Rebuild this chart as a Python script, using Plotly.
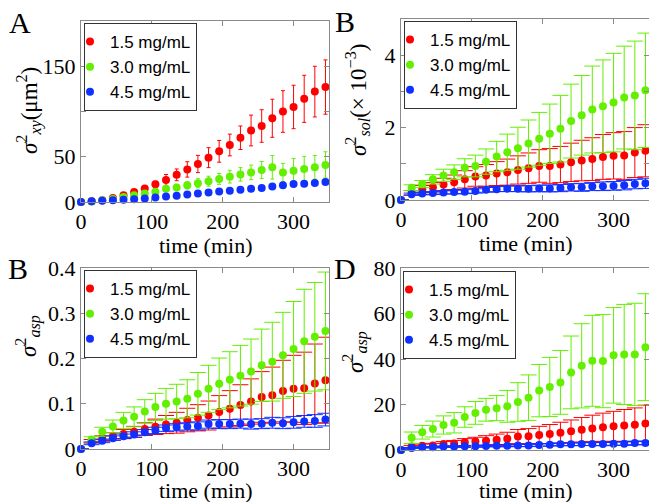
import plotly.graph_objects as go

# ---------------- data ----------------
time_min = [0, 15, 30, 45, 60, 75, 90, 105, 120, 135, 150, 165, 180, 195,
            210, 225, 240, 255, 270, 285, 300, 315, 330, 345]
series_names = ["1.5 mg/mL", "3.0 mg/mL", "4.5 mg/mL"]

# Panel A: sigma_xy^2 (um^2)
A_red = [0, 0.7, 2, 4.5, 7.5, 11, 15, 19.5, 24.4, 30, 36, 42, 49, 56, 63, 71, 79, 84, 92.5, 100, 105, 114, 122, 127]
A_red_err = [0, 0.3, 0.5, 0.8, 1, 1.3, 2, 3.5, 6, 6.5, 8.5, 9.5, 11, 12, 12, 13, 17, 18, 21, 23, 24, 26, 28, 30]
A_green = [0, 0.5, 2, 3.4, 5.6, 7.5, 9.4, 11.3, 14.7, 16, 18.4, 20.7, 23, 25.5, 28, 30.5, 32.7, 35.3, 38.3, 32.7, 34.6, 36.5, 38.3, 41]
A_green_err = [0, 0.3, 0.5, 0.8, 1, 1.5, 2, 2.5, 3, 3.5, 4, 5, 5.5, 6, 7, 7.5, 8, 9.5, 13, 10, 13.5, 14, 13, 14.5]
A_blue = [0, 0.7, 1.5, 2, 2.6, 3, 4, 5, 6, 7, 8.3, 9.4, 10.5, 11.6, 12.4, 13.5, 14.7, 15.4, 17, 18.4, 20, 20.3, 21, 22.2]
A_blue_err = [0, 0.2, 0.3, 0.3, 0.4, 0.5, 0.5, 0.6, 0.7, 0.8, 0.8, 0.9, 1, 1, 1.1, 1.2, 1.2, 1.3, 1.4, 1.5, 1.5, 1.6, 1.7, 1.8]

# Panel B: sigma_sol^2 (x 10^-3)
B_red = [0, 0.2, 0.30, 0.35, 0.43, 0.49, 0.57, 0.65, 0.68, 0.73, 0.77, 0.83, 0.88, 0.94, 0.94, 0.98, 1.04, 1.09, 1.13, 1.19, 1.22, 1.23, 1.31, 1.36]
B_red_err = [0, 0.06, 0.1, 0.13, 0.17, 0.2, 0.24, 0.27, 0.3, 0.33, 0.36, 0.39, 0.42, 0.45, 0.48, 0.5, 0.53, 0.56, 0.59, 0.62, 0.64, 0.66, 0.69, 0.72]
B_green = [0, 0.34, 0.44, 0.57, 0.68, 0.77, 0.89, 0.94, 1.06, 1.20, 1.32, 1.43, 1.56, 1.69, 1.83, 1.97, 2.18, 2.34, 2.50, 2.59, 2.69, 2.83, 2.89, 3.03]
B_green_err = [0, 0.08, 0.1, 0.13, 0.17, 0.2, 0.25, 0.3, 0.35, 0.42, 0.5, 0.58, 0.65, 0.73, 0.82, 0.92, 1.02, 1.1, 1.2, 1.28, 1.36, 1.42, 1.5, 1.58]
B_blue = [0, 0.16, 0.18, 0.19, 0.21, 0.22, 0.23, 0.25, 0.28, 0.30, 0.31, 0.31, 0.31, 0.32, 0.32, 0.33, 0.35, 0.35, 0.37, 0.38, 0.39, 0.41, 0.44, 0.46]
B_blue_err = [0, 0.03, 0.035, 0.04, 0.045, 0.05, 0.055, 0.06, 0.065, 0.07, 0.075, 0.08, 0.085, 0.09, 0.095, 0.1, 0.1, 0.11, 0.11, 0.12, 0.12, 0.13, 0.13, 0.14]

# Panel C ("B", lower left): sigma_asp^2
C_red = [0, 0.017, 0.023, 0.028, 0.033, 0.038, 0.044, 0.049, 0.054, 0.058, 0.064, 0.069, 0.074, 0.082, 0.089, 0.097, 0.105, 0.115, 0.119, 0.128, 0.133, 0.134, 0.145, 0.152]
C_red_err = [0, 0.004, 0.006, 0.008, 0.01, 0.012, 0.014, 0.017, 0.02, 0.023, 0.026, 0.029, 0.032, 0.036, 0.04, 0.045, 0.05, 0.056, 0.062, 0.068, 0.074, 0.08, 0.087, 0.095]
C_green = [0, 0.021, 0.038, 0.050, 0.063, 0.071, 0.083, 0.093, 0.100, 0.105, 0.111, 0.122, 0.133, 0.144, 0.153, 0.162, 0.171, 0.185, 0.193, 0.207, 0.221, 0.238, 0.248, 0.261]
C_green_err = [0, 0.006, 0.01, 0.014, 0.018, 0.022, 0.026, 0.03, 0.034, 0.038, 0.042, 0.047, 0.052, 0.057, 0.062, 0.067, 0.072, 0.08, 0.087, 0.095, 0.105, 0.115, 0.12, 0.13]
C_blue = [0, 0.0125, 0.018, 0.024, 0.028, 0.032, 0.037, 0.041, 0.046, 0.048, 0.050, 0.051, 0.055, 0.055, 0.055, 0.056, 0.055, 0.056, 0.058, 0.057, 0.059, 0.061, 0.062, 0.065]
C_blue_err = [0, 0.003, 0.004, 0.005, 0.005, 0.006, 0.006, 0.007, 0.007, 0.008, 0.008, 0.009, 0.009, 0.01, 0.01, 0.01, 0.011, 0.011, 0.012, 0.012, 0.013, 0.013, 0.014, 0.014]

# Panel D: sigma_asp^2
D_red = [0, 1.5, 1.9, 2.0, 2.6, 2.9, 3.4, 3.7, 4.1, 4.5, 5.0, 5.9, 6.0, 6.6, 7.0, 7.6, 8.2, 8.9, 9.5, 10.0, 10.4, 10.8, 11.1, 11.7]
D_red_err = [0, 0.5, 0.7, 0.9, 1.1, 1.3, 1.6, 1.9, 2.2, 2.5, 2.8, 3.1, 3.4, 3.8, 4.2, 4.6, 5, 5.4, 5.8, 6.2, 6.6, 7, 7.4, 8]
D_green = [0, 5.4, 7.8, 9.2, 11.0, 12.0, 14.5, 16.3, 17.7, 18.4, 19.2, 21.1, 23.0, 26.1, 27.7, 29.7, 34.1, 37.0, 39.2, 39.1, 41.6, 42.0, 42.0, 45.2]
D_green_err = [0, 2.5, 3, 3.5, 4, 4.5, 4.5, 5, 5, 5.5, 7, 8.5, 10, 11.5, 13, 14, 16, 18.5, 20, 20.5, 21, 22, 22.5, 23.5]
D_blue = [0, 0.9, 1.2, 1.2, 1.5, 1.5, 1.6, 1.6, 1.8, 1.9, 1.9, 2.0, 2.0, 2.2, 2.3, 2.5, 2.5, 2.6, 2.6, 2.6, 2.8, 2.8, 3.1, 3.1]
D_blue_err = [0, 0.2, 0.25, 0.3, 0.3, 0.35, 0.35, 0.4, 0.4, 0.45, 0.45, 0.5, 0.5, 0.55, 0.55, 0.6, 0.6, 0.65, 0.65, 0.7, 0.7, 0.75, 0.75, 0.8]

x_ticks = [0, 100, 200, 300]
A_yticks, A_ylabels = [0, 50, 100, 150, 200], ["0", "50", "", "150", ""]
B_yticks, B_ylabels = [0, 1, 2, 3, 4, 5], ["0", "", "2", "", "4", ""]
C_yticks, C_ylabels = [0, 0.1, 0.2, 0.3, 0.4], ["0", "0.1", "0.2", "0.3", "0.4"]
D_yticks, D_ylabels = [0, 20, 40, 60, 80], ["0", "20", "40", "60", "80"]

colors = ["#ff0000", "#62f000", "#1030ff"]

W, H = 649, 502
SERIF = "Liberation Serif"
SANS = "Liberation Sans"

def px(x):
    return x / W

def py(y):
    return 1 - y / H

# plot-area boxes in pixels: (left, right, top, bottom)
boxes = {
    1: (81, 329, 21, 202),
    2: (401, 649, 19, 200),
    3: (81, 329, 268, 449),
    4: (401, 649, 268, 450),
}

panels = [
    (1, [A_red, A_green, A_blue], [A_red_err, A_green_err, A_blue_err], [0, 200], A_yticks, A_ylabels, 2),
    (2, [B_red, B_green, B_blue], [B_red_err, B_green_err, B_blue_err], [0, 5], B_yticks, B_ylabels, 8),
    (3, [C_red, C_green, C_blue], [C_red_err, C_green_err, C_blue_err], [0, 0.4], C_yticks, C_ylabels, 8),
    (4, [D_red, D_green, D_blue], [D_red_err, D_green_err, D_blue_err], [0, 80], D_yticks, D_ylabels, 8),
]

fig = go.Figure()
layout = {}
for idx, ys, errs, yr, ytv, ytt, capw in panels:
    sfx = "" if idx == 1 else str(idx)
    lg = "legend" if idx == 1 else "legend%d" % idx
    for name, y, e, c in zip(series_names, ys, errs, colors):
        fig.add_trace(go.Scatter(
            x=time_min, y=y, mode="markers", name=name,
            marker=dict(color=c, size=8),
            error_y=dict(type="data", array=e, visible=True, color=c,
                         thickness=1, width=capw),
            xaxis="x" + sfx, yaxis="y" + sfx, legend=lg,
            cliponaxis=False,
        ))
    l, r, t, b = boxes[idx]
    axis_common = dict(showline=True, linecolor="#8a8a8a", linewidth=1,
                       mirror="ticks", ticks="inside", ticklen=5,
                       tickcolor="#8a8a8a", showgrid=False, zeroline=False,
                       automargin=False,
                       tickfont=dict(family=SERIF, size=22, color="black"))
    layout["xaxis" + sfx] = dict(axis_common, domain=[px(l), min(px(r), 1)],
                                 range=[0, 350], tickvals=x_ticks,
                                 anchor="y" + sfx)
    layout["yaxis" + sfx] = dict(axis_common, domain=[py(b), py(t)],
                                 range=yr, tickvals=ytv, ticktext=ytt,
                                 anchor="x" + sfx)

legend_pos = {1: (84, 23), 2: (404, 21), 3: (84, 270), 4: (403, 271)}
for idx, (lx, ly) in legend_pos.items():
    key = "legend" if idx == 1 else "legend%d" % idx
    layout[key] = dict(x=px(lx), y=py(ly), xanchor="left", yanchor="top",
                       bgcolor="white", bordercolor="#333333", borderwidth=1,
                       font=dict(family=SANS, size=17, color="black"),
                       indentation=-15, tracegroupgap=0)

annotations = []
def ann(text, x, y, size, angle=0):
    annotations.append(dict(text=text, x=px(x), y=py(y), xref="paper",
                            yref="paper", showarrow=False, textangle=angle,
                            xanchor="center", yanchor="middle",
                            font=dict(family=SERIF, size=size, color="black")))

# panel letters
ann("A", 20, 23, 30)
ann("B", 345, 22, 30)
ann("B", 18, 268, 30)
ann("D", 345, 268, 30)
# x titles
ann("time (min)", 205, 245, 22)
ann("time (min)", 525, 243, 22)
ann("time (min)", 205, 490, 22)
ann("time (min)", 525, 490, 22)
# y titles
ann("<i>σ</i><sup>2</sup><sub><i>xy</i></sub>(μm<sup>2</sup>)", 29, 110, 23, -90)
ann("<i>σ</i><sup>2</sup><sub><i>sol</i></sub>(× 10<sup>−3</sup>)", 357, 100, 23, -90)
ann("<i>σ</i><sup>2</sup><sub><i>asp</i></sub>", 28, 336, 23, -90)
ann("<i>σ</i><sup>2</sup><sub><i>asp</i></sub>", 355, 352, 23, -90)

fig.update_layout(**layout)
fig.update_layout(template="none", width=W, height=H,
                  margin=dict(l=0, r=0, t=0, b=0, pad=0, autoexpand=False),
                  paper_bgcolor="white", plot_bgcolor="white",
                  annotations=annotations, showlegend=True)
# remove the browser's default 8px page margin so the figure fills the window
fig.write_html("out.html",
               config={"displayModeBar": False},
               post_script="document.body.style.margin='0';"
                           "document.body.style.overflow='hidden';")
